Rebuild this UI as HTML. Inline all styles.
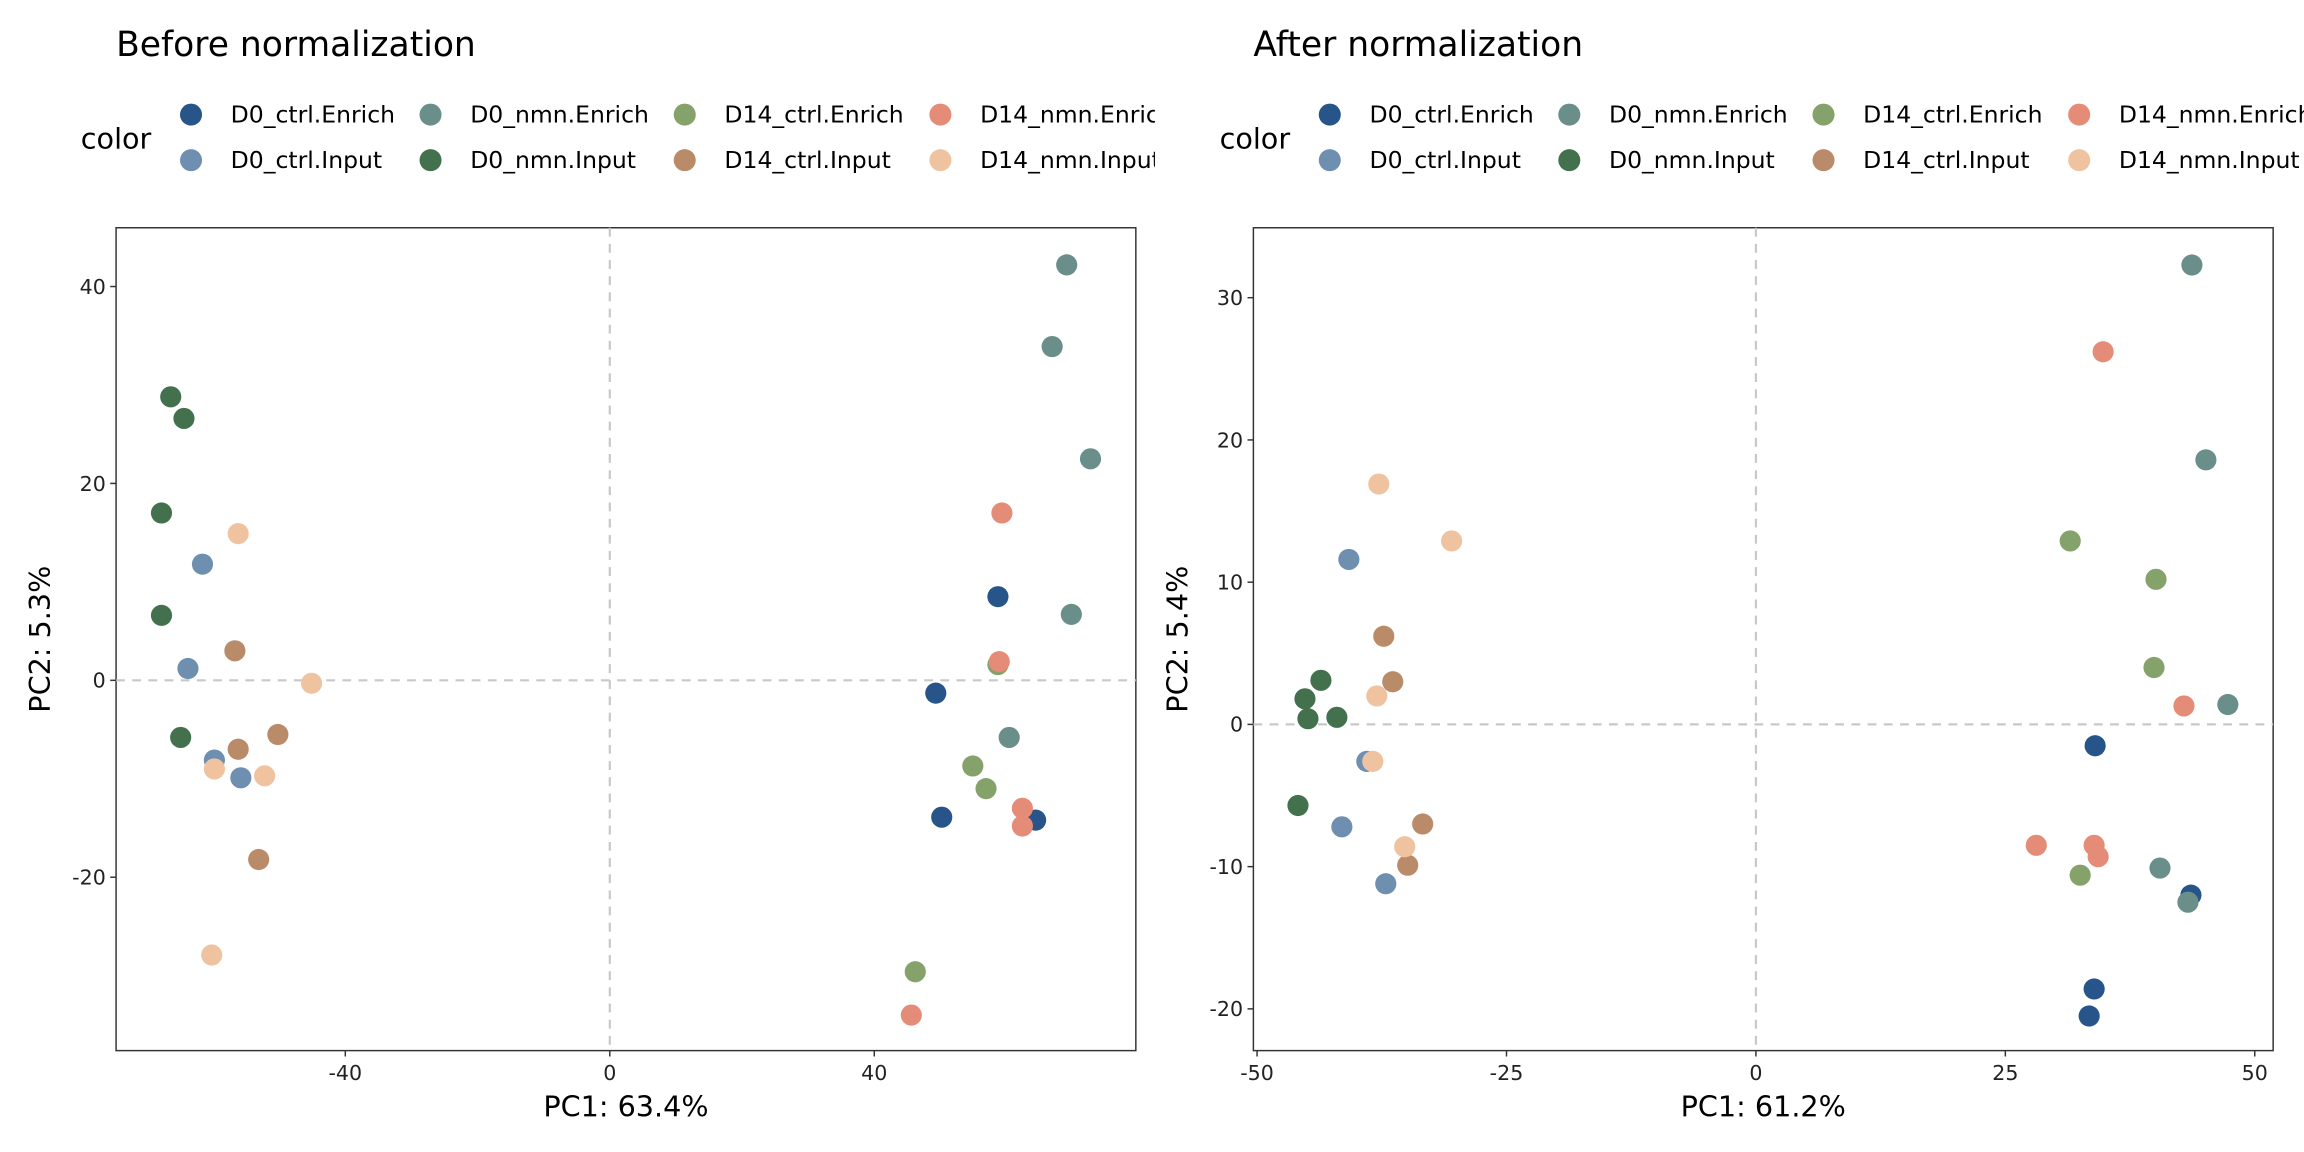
<!DOCTYPE html>
<html><head><meta charset="utf-8"><style>
html,body{margin:0;padding:0;background:#fff}
svg{display:block;font-family:"DejaVu Sans","Liberation Sans",sans-serif}
</style></head><body>
<svg id="chart" width="2304" height="1152" viewBox="0 0 1568 784" xmlns="http://www.w3.org/2000/svg">
<defs><clipPath id="legclip"><rect x="0" y="0" width="786" height="150"/></clipPath></defs>
</svg>
<script>
const groups = ["D0_ctrl.Enrich","D0_nmn.Enrich","D14_ctrl.Enrich","D14_nmn.Enrich","D0_ctrl.Input","D0_nmn.Input","D14_ctrl.Input","D14_nmn.Input"];
const colors = ["#27558a","#6a8f8a","#84a26a","#e48c77","#6f8fb0","#44714d","#b98b69","#efc3a0"];
const beforeX = [
 [58.7,49.3,50.2,64.4],
 [69.1,66.9,72.7,69.8,60.4],
 [58.7,54.9,56.9,46.2],
 [59.3,58.9,62.4,62.4,45.6],
 [-61.6,-63.8,-59.8,-55.8],
 [-66.4,-64.4,-67.8,-67.8,-64.9],
 [-56.7,-56.2,-50.2,-53.1],
 [-56.2,-45.1,-59.8,-52.2,-60.2]
];
const beforeY = [
 [8.5,-1.3,-13.9,-14.2],
 [42.2,33.9,22.5,6.7,-5.8],
 [1.6,-8.7,-11.0,-29.6],
 [17.0,1.9,-13.0,-14.8,-34.0],
 [11.8,1.2,-8.1,-9.9],
 [28.8,26.6,17.0,6.6,-5.8],
 [3.0,-7.0,-5.5,-18.2],
 [14.9,-0.3,-9.0,-9.7,-27.9]
];
const afterX = [
 [34.0,43.6,33.9,33.4],
 [43.7,45.1,47.3,40.5,43.3],
 [31.5,40.1,39.9,32.5],
 [34.8,42.9,28.1,33.9,34.3],
 [-40.8,-39.0,-41.5,-37.1],
 [-45.2,-43.6,-44.9,-42.0,-45.9],
 [-37.3,-36.4,-33.4,-34.9],
 [-37.8,-30.5,-38.0,-38.4,-35.2]
];
const afterY = [
 [-1.5,-12.0,-18.6,-20.5],
 [32.3,18.6,1.4,-10.1,-12.5],
 [12.9,10.2,4.0,-10.6],
 [26.2,1.3,-8.5,-8.5,-9.3],
 [11.6,-2.6,-7.2,-11.2],
 [1.8,3.1,0.4,0.5,-5.7],
 [6.2,3.0,-7.0,-9.9],
 [16.9,12.9,2.0,-2.6,-8.6]
];
const beforeXTicks = [-40,0,40];
const beforeYTicks = [40,20,0,-20];
const afterXTicks = [-50,-25,0,25,50];
const afterYTicks = [30,20,10,0,-10,-20];

const svg = document.getElementById('chart');
const NS = "http://www.w3.org/2000/svg";
function mk(tag, attrs, parent){
  const e = document.createElementNS(NS, tag);
  for (const k in attrs) e.setAttribute(k, attrs[k]);
  (parent||svg).appendChild(e);
  return e;
}

function panel(opt){
  const g = mk('g', {});
  
  
  const sx = v => opt.x0px + v * opt.xs;
  const sy = v => opt.y0px - v * opt.ys;
  const L=opt.box[0], T=opt.box[1], R=opt.box[2], B=opt.box[3];
  const t = mk('text', {x:L, y:38, 'font-size':23.5, fill:'#000'}, g);
  t.textContent = opt.title;
  
  
  const lg = mk('g', opt.clip ? {'clip-path':'url(#legclip)'} : {}, g);
  
  
  const ct = mk('text', {x:opt.legX, y:101, 'font-size':19.5}, lg);
  ct.textContent = 'color';
  
  
  const keyOff = [0,163,336,510];
  groups.forEach((name,i)=>{
    const col = i%4, row = Math.floor(i/4);
    const kx = opt.legX + 75 + keyOff[col];
    const ky = row===0 ? 78 : 109;
    const e = mk('g', {}, lg);
    
    
    mk('circle', {cx:kx, cy:ky, r:7.5, fill:colors[i]}, e);
    const tx = mk('text', {x:kx+27, y:ky+5.5, 'font-size':16}, e);
    tx.textContent = name;
  });
  const box = mk('rect', {x:L, y:T, width:R-L, height:B-T, fill:'none', stroke:'#333', 'stroke-width':1}, g);
  
  
  const vl = mk('line', {x1:sx(0), x2:sx(0), y1:T, y2:B, stroke:'#c8c8c8', 'stroke-width':1.5, 'stroke-dasharray':'6,5'}, g);
  
  
  const hl = mk('line', {x1:L, x2:R, y1:sy(0), y2:sy(0), stroke:'#c8c8c8', 'stroke-width':1.5, 'stroke-dasharray':'6,5'}, g);
  
  
  opt.xt.forEach(v=>{
    mk('line', {x1:sx(v), x2:sx(v), y1:B, y2:B+4, stroke:'#333'}, g);
    const tl = mk('text', {x:sx(v), y:B+20, 'font-size':14, 'text-anchor':'middle', fill:'#222'}, g);
    tl.textContent = v;
    
    
  });
  opt.yt.forEach(v=>{
    mk('line', {x1:L-4, x2:L, y1:sy(v), y2:sy(v), stroke:'#333'}, g);
    const tl = mk('text', {x:L-7, y:sy(v)+5, 'font-size':14, 'text-anchor':'end', fill:'#222'}, g);
    tl.textContent = v;
    
    
  });
  const xa = mk('text', {x:(L+R)/2, y:760, 'font-size':19.5, 'text-anchor':'middle'}, g);
  xa.textContent = opt.xlab;
  
  
  const yx = L-45, yy=(T+B)/2;
  const ya = mk('text', {x:yx, y:yy, 'font-size':19.5, 'text-anchor':'middle', transform:`rotate(-90 ${yx} ${yy})`}, g);
  ya.textContent = opt.ylab;
  
  
  groups.forEach((name,i)=>{
    opt.X[i].forEach((xv,j)=>{
      const c = mk('circle', {cx:sx(xv), cy:sy(opt.Y[i][j]), r:7.2, fill:colors[i]}, g);
      
      
    });
  });
}

panel({name:'before-normalization-panel', title:'Before normalization', box:[79,155,773,715],
  x0px:415, xs:4.5, y0px:463, ys:6.7, xt:beforeXTicks, yt:beforeYTicks,
  X:beforeX, Y:beforeY, xlab:'PC1: 63.4%', ylab:'PC2: 5.3%', legX:55, clip:true});
panel({name:'after-normalization-panel', title:'After normalization', box:[853,155,1547,715],
  x0px:1195, xs:6.79, y0px:493, ys:9.68, xt:afterXTicks, yt:afterYTicks,
  X:afterX, Y:afterY, xlab:'PC1: 61.2%', ylab:'PC2: 5.4%', legX:830, clip:false});
</script>
</body></html>
